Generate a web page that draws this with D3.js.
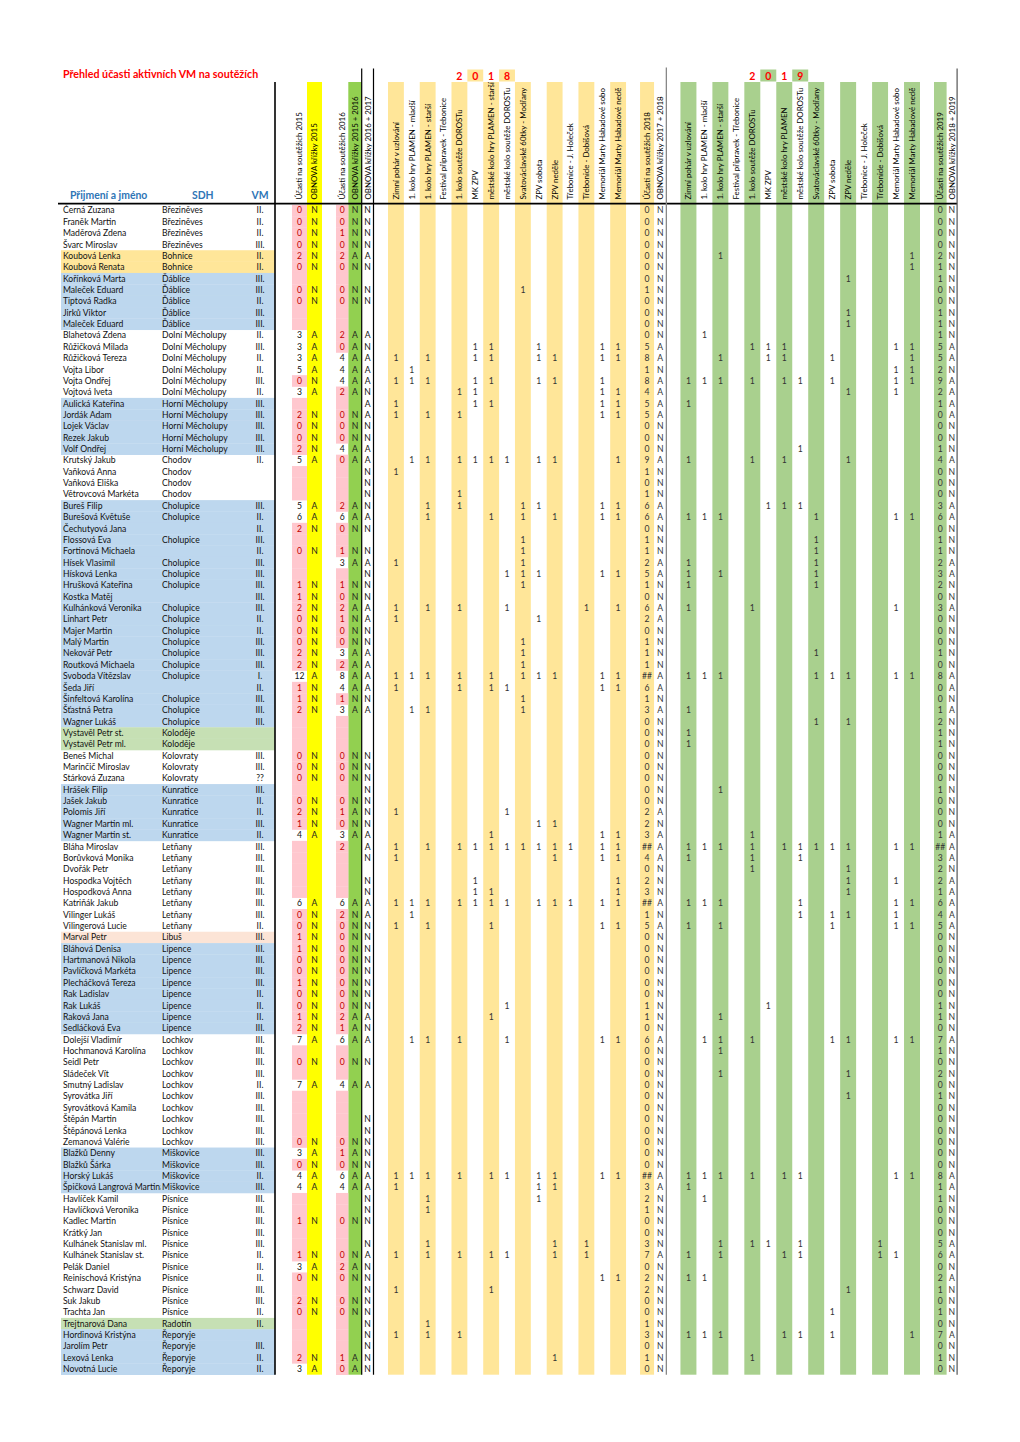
<!DOCTYPE html>
<html><head><meta charset="utf-8">
<script src="https://cdn.jsdelivr.net/npm/d3@7"></script>
<style>
body{margin:0;background:#fff}
text{font-family:Lato,"Open Sans",sans-serif}
</style>
</head><body>
<svg id="chart" width="1020" height="1442"></svg>
<script>
// ---------------- DATA ----------------
const title = "Přehled účasti aktivních VM na soutěžích";
const names = [
"Černá Zuzana","Franěk Martin","Maděrová Zdena","Švarc Miroslav","Koubová Lenka","Koubová Renata","Kořínková Marta","Maleček Eduard","Tiptová Radka","Jirků Viktor",
"Maleček Eduard","Blahetová Zdena","Růžičková Milada","Růžičková Tereza","Vojta Libor","Vojta Ondřej","Vojtová Iveta","Aulická Kateřina","Jordák Adam","Lojek Václav",
"Rezek Jakub","Volf Ondřej","Krutský Jakub","Vaňková Anna","Vaňková Eliška","Větrovcová Markéta","Bureš Filip","Burešová Květuše","Čechutyová Jana","Flossová Eva",
"Fortinová Michaela","Hísek Vlasimil","Hísková Lenka","Hrušková Kateřina","Kostka Matěj","Kulhánková Veronika","Linhart Petr","Majer Martin","Malý Martin","Nekovář Petr",
"Routková Michaela","Svoboda Vítězslav","Šeda Jiří","Šinfeltová Karolína","Šťastná Petra","Wagner Lukáš","Vystavěl Petr st.","Vystavěl Petr ml.","Beneš Michal","Marinčič Miroslav",
"Stárková Zuzana","Hrášek Filip","Jašek Jakub","Polomis Jiří","Wagner Martin ml.","Wagner Martin st.","Bláha Miroslav","Borůvková Monika","Dvořák Petr","Hospodka Vojtěch",
"Hospodková Anna","Katriňák Jakub","Vilinger Lukáš","Vilingerová Lucie","Marval Petr","Bláhová Denisa","Hartmanová Nikola","Pavlíčková Markéta","Plecháčková Tereza","Rak Ladislav",
"Rak Lukáš","Raková Jana","Sedláčková Eva","Dolejší Vladimír","Hochmanová Karolína","Seidl Petr","Sládeček Vít","Smutný Ladislav","Syrovátka Jiří","Syrovátková Kamila",
"Štěpán Martin","Štěpánová Lenka","Zemanová Valérie","Blažků Denny","Blažků Šárka","Horský Lukáš","Špičková Langrová Martina","Havlíček Kamil","Havlíčková Veronika","Kadlec Martin",
"Krátký Jan","Kulhánek Stanislav ml.","Kulhánek Stanislav st.","Pelák Daniel","Reinischová Kristýna","Schwarz David","Suk Jakub","Trachta Jan","Trejtnarová Dana","Hordinová Kristýna",
"Jarolím Petr","Lexová Lenka","Novotná Lucie"];
const sdh = [
"Březiněves","Březiněves","Březiněves","Březiněves","Bohnice","Bohnice","Ďáblice","Ďáblice","Ďáblice","Ďáblice",
"Ďáblice","Dolní Měcholupy","Dolní Měcholupy","Dolní Měcholupy","Dolní Měcholupy","Dolní Měcholupy","Dolní Měcholupy","Horní Měcholupy","Horní Měcholupy","Horní Měcholupy",
"Horní Měcholupy","Horní Měcholupy","Chodov","Chodov","Chodov","Chodov","Cholupice","Cholupice","","Cholupice",
"","Cholupice","Cholupice","Cholupice","","Cholupice","Cholupice","Cholupice","Cholupice","Cholupice",
"Cholupice","Cholupice","","Cholupice","Cholupice","Cholupice","Koloděje","Koloděje","Kolovraty","Kolovraty",
"Kolovraty","Kunratice","Kunratice","Kunratice","Kunratice","Kunratice","Letňany","Letňany","Letňany","Letňany",
"Letňany","Letňany","Letňany","Letňany","Libuš","Lipence","Lipence","Lipence","Lipence","Lipence",
"Lipence","Lipence","Lipence","Lochkov","Lochkov","Lochkov","Lochkov","Lochkov","Lochkov","Lochkov",
"Lochkov","Lochkov","Lochkov","Miškovice","Miškovice","Miškovice","Miškovice","Písnice","Písnice","Písnice",
"Písnice","Písnice","Písnice","Písnice","Písnice","Písnice","Písnice","Písnice","Radotín","Řeporyje",
"Řeporyje","Řeporyje","Řeporyje"];
const vm = [
"II.","II.","II.","III.","II.","II.","III.","III.","II.","III.",
"III.","II.","III.","II.","II.","III.","II.","III.","III.","III.",
"III.","III.","II.","","","","III.","II.","II.","III.",
"II.","III.","III.","III.","III.","III.","II.","II.","III.","III.",
"III.","I.","II.","III.","III.","III.","","","III.","III.",
"??","III.","II.","II.","III.","II.","III.","III.","III.","III.",
"III.","III.","III.","II.","III.","III.","III.","III.","III.","II.",
"II.","II.","III.","III.","III.","III.","III.","II.","III.","III.",
"III.","III.","III.","III.","III.","II.","III.","III.","III.","III.",
"III.","III.","II.","II.","II.","III.","III.","II.","II.","",
"III.","II.","II."];
// row highlight category: b = blue, o = orange, g = green, p = peach
const rowGroup = (
"----oobbbb"+"b------bbb"+"bb----bbbb"+"bbbbbbbbbb"+"bbbbbbgg--"+
"-bbbbb----"+"----pbbbbb"+"bbb-------"+"---bbbb---"+"--------gb"+"bbb").split("");

const ucast2015 = [0,0,0,0,2,0,null,0,0,null, null,3,3,3,5,0,3,null,2,0, 0,2,5,null,null,null,5,6,2,null,
 0,null,null,1,1,2,0,0,0,2, 2,12,1,1,2,null,null,null,0,0, 0,null,0,2,1,4,null,null,null,null,
 null,6,0,0,1,1,0,0,1,0, 0,1,2,7,null,0,null,7,null,null, null,null,0,3,0,4,4,null,null,1,
 null,null,1,3,0,null,2,0,null,null, null,2,3];
const obnova2015 = ("NNNNNN-NN-"+"-AAAANA-NN"+"NNA---AAN-"+"N--NNNNNNN"+"NANNN---NN"+
 "N-NNNA----"+"-ANNNNNNNN"+"NNNA-N-A--"+"--NANAA--N"+"--NAN-NN--"+"-NA").split("");
const ucast2016 = [0,0,1,0,2,0,null,0,0,null, null,2,0,4,4,4,2,null,0,0, 0,4,0,null,null,null,2,6,0,null,
 1,3,null,1,0,2,1,0,0,3, 2,8,4,1,3,null,null,null,0,0, 0,null,0,1,0,3,2,null,null,null,
 null,6,2,0,0,0,0,0,0,0, 0,2,1,6,null,0,null,4,null,null, null,null,0,1,0,6,4,null,null,0,
 null,null,0,2,0,null,0,0,null,null, null,1,0];
const obnova2016 = ("NNNNAN-NN-"+"-AAAAAA-NN"+"NAA---AAN-"+"NA-NNANNNA"+"AAANA---NN"+
 "N-NANA----"+"-ANNNNNNNN"+"NAAA-N-A--"+"--NANAA--N"+"--NAN-NN--"+"-AA").split("");
const obnova2017 = ("NNNNAN-NN-"+"-ANAAANAAN"+"NAANNNNAN-"+"NANNNAANNA"+"AAANA---NN"+
 "NNNNNAAN-N"+"NAANNNNNNN"+"NANA-N-A--"+"NNNNNAANNN"+"-NANNNNNNN"+"NNN").split("");

const comps2018 = ["Zimní pohár v uzlování","1. kolo hry PLAMEN - mladší","1. kolo hry PLAMEN - starší",
 "Festival přípravek - Třebonice","1. kolo soutěže DOROSTu","MK ZPV","městské kolo hry PLAMEN - starší",
 "městské kolo soutěže DOROSTu","Svatováclavské 60tky - Modřany","ZPV sobota","ZPV neděle",
 "Třebonice - J. Holeček","Třebonide - Dobišová","Memoriál Marty Habadové sobo","Memoriál Marty Habadové nedě"];
const comps2019 = ["Zimní pohár v uzlování","1. kolo hry PLAMEN - mladší","1. kolo hry PLAMEN - starší",
 "Festival přípravek - Třebonice","1. kolo soutěže DOROSTu","MK ZPV","městské kolo hry PLAMEN",
 "městské kolo soutěže DOROSTu","Svatováclavské 60tky - Modřany","ZPV sobota","ZPV neděle",
 "Třebonice - J. Holeček","Třebonide - Dobišová","Memoriál Marty Habadové sobo","Memoriál Marty Habadové nedě"];

const E = "...............";
// one string per person, one character per competition ('1' = took part)
const part2018 = [
E,E,E,E,E,E,E,"........1......",E,E,                                   // 1-10
E,E,".....11..1...11","1.1..11..11..11",".1.............","111..11..11..1.","....11.......11","1....11......11","1.1.1........11",E, // 11-20
E,E,".11.1111.11...1","1..............",E,"....1..........","..1.1...11...11","..1...1.1.1..11",E,"........1......", // 21-30
"........1......","1.......1......",".......111...11","........1......",E,"1.1.1..1....1.1","1........1.....",E,"........1......","........1......", // 31-40
"........1......","111.1.1.111..11","1...1.11.....11","........1......",".11.....1......",E,E,E,E,E, // 41-50
E,E,E,"1......1.......",".........11....","......1......11","1.1.11111111.11","1.........1..11",E,".....1........1", // 51-60
".....11.......1","111.1111.111.11",".1.............","1.1...1......11",E,E,E,E,E,E, // 61-70
".......1.......","......1........",E,".11.1..1.....11",E,E,E,E,E,E, // 71-80
E,E,E,E,E,"111.1.11.11..11","1........11....","..1......1.....","..1............",E, // 81-90
E,"..1.......1.1..","1.1.1.11..1.1..",E,".............11","1.....1........",E,E,"..1............","1.1.1..........", // 91-100
E,"..........1....",E];
const obnova2018 = ("NNNNNNNNNN"+"NNAANAAAAN"+"NNANNNAANN"+"NAANNAANNN"+"NAANANNNNN"+
 "NNNANAAANN"+"NANANNNNNN"+"NNNANNNNNN"+"NNNNNAANNN"+"NNANNNNNNN"+"NNN").split("");
const part2019 = [
E,E,E,E,"..1...........1","..............1","..........1....",E,E,"..........1....", // 1-10
"..........1....",".1.............","....111......11","..1..11..1....1",".............11","111.1.11.1...11","..........1..1.","1..............",E,E, // 11-20
E,".......1.......","1...1.1...1....",E,E,E,".....111.......","111.....1....11",E,"........1......", // 21-30
"........1......","1.......1......","1.1.....1......","1.......1......",E,"1...1........1.",E,E,E,"........1......", // 31-40
E,"111.....111..11",E,E,"1..............","........1.1....","1..............","1..............",E,E, // 41-50
E,"..1............",E,E,E,"....1..........","111.1.11111..11","1...1..1.......","....1.....1....","..........1..1.", // 51-60
"..........1....","111....1.....11",".......1.11..1.","1.1......1...11",E,E,E,E,E,E, // 61-70
".....1.........","..1............",E,".11.1....11..11","..1............",E,"..1.......1....",E,"..........1....",E, // 71-80
E,E,E,E,E,"111.1.11.....11","1..............",".1.............",E,E, // 81-90
E,"..1.11.1....1..","1.1...11....11.",E,"11.............","..........1....",E,".........1.....",E,"111...11.1....1", // 91-100
E,"....1..........",E];
const obnova2019 = ("NNNNNNNNNN"+"NNAANAAAAN"+"NNANNNAANN"+"NAANNANNNN"+"NAANANNNNN"+
 "NNNNNAAANA"+"AAAANNNNNN"+"NNNANNNNNN"+"NNNNNAANNN"+"NAANANNNNA"+"NNN").split("");

// ---------------- LAYOUT ----------------
const svg = d3.select("#chart");
const n = names.length;
const yTop = 204.8, yBot = 1374.7, bandTop = 82, yearTop = 69.5;
const y = d3.scaleBand().domain(d3.range(n)).range([yTop, yBot]);
const rh = y.bandwidth();

// column layout (key, width)
const colDefs = [["name",99.5],["sdh",84.5],["vm",30],["s0",17],
 ["u15",15],["o15",15],["s1",14],["u16",12.3],["o1516",13.4],["o1617",11.8],["s2",14.5]];
d3.range(15).forEach(i=>colDefs.push(["c"+i,15.87]));
colDefs.push(["s3",14],["t18",14],["n18",12.3],["s4",14.1]);
d3.range(15).forEach(i=>colDefs.push(["g"+i,15.97]));
colDefs.push(["s5",14],["t19",12.6],["n19",10.5]);
const starts = []; let acc = 61;
colDefs.forEach(d=>{starts.push(acc); acc += d[1];});
const x0 = d3.scaleOrdinal().domain(colDefs.map(d=>d[0])).range(starts);
const cw = d3.scaleOrdinal().domain(colDefs.map(d=>d[0])).range(colDefs.map(d=>d[1]));
const xc = k => x0(k) + cw(k)/2;
const x1 = k => x0(k) + cw(k);

const C = {blue:"#bdd7ee",orange:"#ffe699",green:"#c6e0b4",peach:"#fce4d6",
 pink:"#ffc7ce",red:"#c00000",yellow:"#ffff00",lime:"#92d050",y18:"#ffe699",g19:"#a9d08e",
 head:"#2e75b6"};
const grpColor = {b:C.blue,o:C.orange,g:C.green,p:C.peach};
const FS = 8.6;

// row backgrounds
svg.append("g").selectAll("rect").data(d3.range(n).filter(i=>rowGroup[i]!=="-")).join("rect")
 .attr("x",x0("name")).attr("width",x1("vm")-x0("name"))
 .attr("y",i=>y(i)).attr("height",rh+0.3).attr("fill",i=>grpColor[rowGroup[i]]);

// column bands
const bands = [["o15",C.yellow],["o1516",C.lime],["t18",C.y18],["t19",C.g19]];
d3.range(0,15,2).forEach(i=>{bands.push(["c"+i,C.y18]); bands.push(["g"+i,C.g19]);});
svg.append("g").selectAll("rect").data(bands).join("rect")
 .attr("x",d=>x0(d[0])).attr("width",d=>cw(d[0]))
 .attr("y",bandTop).attr("height",yBot-bandTop).attr("fill",d=>d[1]);

// year row
const yearCells = [["c5",C.y18],["c7",C.y18],["g5",C.g19],["g7",C.g19]];
svg.append("g").selectAll("rect").data(yearCells).join("rect")
 .attr("x",d=>x0(d[0])).attr("width",d=>cw(d[0]))
 .attr("y",yearTop).attr("height",bandTop-yearTop-0.5).attr("fill",d=>d[1]);
const yearDigits = [];
"2018".split("").forEach((d,i)=>yearDigits.push([d,"c"+(4+i)]));
"2019".split("").forEach((d,i)=>yearDigits.push([d,"g"+(4+i)]));
svg.append("g").selectAll("text").data(yearDigits).join("text")
 .attr("x",d=>xc(d[1])).attr("y",79.5).attr("text-anchor","middle")
 .attr("font-size",10.5).attr("font-weight","bold").attr("fill","#ff0000").text(d=>d[0]);

// pink conditional cells
const pinkCells = [];
d3.range(n).forEach(i=>{
 if (ucast2015[i]===null || ucast2015[i]<3) pinkCells.push([i,"u15"]);
 if (ucast2016[i]===null || ucast2016[i]<3) pinkCells.push([i,"u16"]);
});
svg.append("g").selectAll("rect").data(pinkCells).join("rect")
 .attr("x",d=>x0(d[1])).attr("width",d=>cw(d[1]))
 .attr("y",d=>y(d[0])).attr("height",rh+0.3).attr("fill",C.pink);

// title & header
svg.append("text").attr("x",63).attr("y",78).attr("font-size",10.7).attr("font-weight","bold")
 .attr("fill","#ff0000").text(title);
const hdr = [["Přijmení a jméno",70,"start"],["SDH",xc("sdh"),"middle"],["VM",xc("vm"),"middle"]];
svg.append("g").selectAll("text").data(hdr).join("text")
 .attr("x",d=>d[1]).attr("y",199).attr("text-anchor",d=>d[2])
 .attr("font-size",10.4).attr("font-weight","bold").attr("fill",C.head).text(d=>d[0]);

const rotLabels = [["u15","Účasti na soutěžích 2015"],["o15","OBNOVA křížky 2015"],
 ["u16","Účasti na soutěžích 2016"],["o1516","OBNOVA křížky 2015 + 2016"],["o1617","OBNOVA křížky 2016 + 2017"]];
comps2018.forEach((c,i)=>rotLabels.push(["c"+i,c]));
rotLabels.push(["t18","Účasti na soutěžích 2018"],["n18","OBNOVA křížky 2017 + 2018"]);
comps2019.forEach((c,i)=>rotLabels.push(["g"+i,c]));
rotLabels.push(["t19","Účasti na soutěžích 2019"],["n19","OBNOVA křížky 2018 + 2019"]);
svg.append("g").selectAll("text").data(rotLabels).join("text")
 .attr("transform",d=>`translate(${xc(d[0])+2.9},199.5) rotate(-90)`)
 .attr("font-size",7.9).attr("fill","#000").text(d=>d[1]);

// clip for names
svg.append("clipPath").attr("id","nameClip").append("rect")
 .attr("x",x0("name")).attr("y",yTop).attr("width",cw("name")).attr("height",yBot-yTop);

const cy = i => y(i)+rh/2+FS*0.35;
const body = svg.append("g").attr("font-size",FS);
body.append("g").attr("clip-path","url(#nameClip)").selectAll("text").data(names).join("text")
 .attr("x",x0("name")+2).attr("y",(d,i)=>cy(i)).attr("fill","#111").text(d=>d);
body.append("g").selectAll("text").data(sdh).join("text")
 .attr("x",x0("sdh")+1.5).attr("y",(d,i)=>cy(i)).attr("fill","#111").text(d=>d);
body.append("g").selectAll("text").data(vm).join("text")
 .attr("x",xc("vm")).attr("text-anchor","middle").attr("y",(d,i)=>cy(i)).attr("fill","#111").text(d=>d);

// generic centered cell text
function cells(arr,key,colorFn){
 body.append("g").selectAll("text").data(arr.map((v,i)=>[v,i]).filter(d=>d[0]!==null && d[0]!=="-" && d[0]!=="."))
  .join("text").attr("x",xc(key)).attr("y",d=>cy(d[1])).attr("text-anchor","middle")
  .attr("fill",d=>colorFn?colorFn(d[0]):"#222").text(d=>d[0]);
}
const redFn = v => v<3 ? C.red : "#111";
cells(ucast2015,"u15",redFn);
cells(obnova2015,"o15");
cells(ucast2016,"u16",redFn);
cells(obnova2016,"o1516");
cells(obnova2017,"o1617",()=>"#111");

function season(parts,prefix,totKey,obKey,obArr){
 d3.range(15).forEach(j=>cells(parts.map(s=>s[j]==="1"?"1":null),prefix+j,()=>"#333"));
 const tot = parts.map(s=>{const c=s.split("").filter(ch=>ch==="1").length; return c>9?"##":String(c);});
 cells(tot,totKey,()=>"#333");
 cells(obArr,obKey,()=>"#333");
}
season(part2018,"c","t18","n18",obnova2018);
season(part2019,"g","t19","n19",obnova2019);

// lines
const L = svg.append("g");
L.append("line").attr("x1",58).attr("x2",x1("n19")).attr("y1",203.6).attr("y2",203.6)
 .attr("stroke","#000").attr("stroke-width",1.6);
const vlines = [[x1("vm"),bandTop,"#000",1.6],[x1("o1516"),68.5,"#000",1.2],[x1("o1617"),68.5,"#000",1.2],
 [x1("n18"),67.5,"#888",1.3],[x1("n19"),68.5,"#555",1.2]];
L.selectAll("line.v").data(vlines).join("line").attr("class","v")
 .attr("x1",d=>d[0]).attr("x2",d=>d[0]).attr("y1",d=>d[1]).attr("y2",yBot)
 .attr("stroke",d=>d[2]).attr("stroke-width",d=>d[3]);
</script>
</body></html>
